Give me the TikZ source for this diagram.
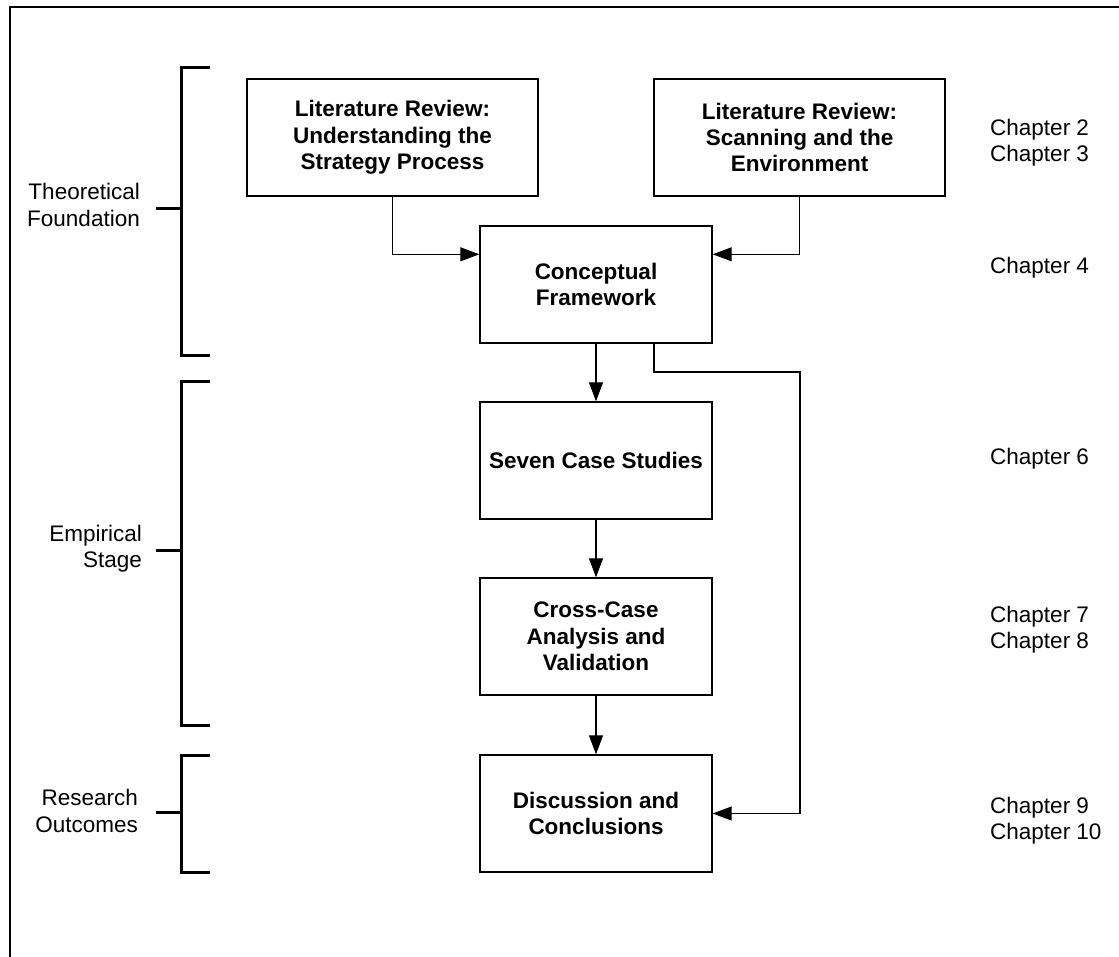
\documentclass[tikz,border=0pt]{standalone}
\usepackage{fontspec}
\setmainfont{Liberation Sans}
\usetikzlibrary{arrows.meta}
\begin{document}
\begin{tikzpicture}[x=1pt,y=-1pt,
  every node/.style={font=\fontsize{22.5}{26.3}\selectfont, inner sep=0pt},
  stage/.style={draw, line width=1.4pt, minimum height=117pt, align=center,
    font=\fontsize{22.5}{26.3}\selectfont\bfseries},
  wide/.style={stage, minimum width=291pt},
  narrow/.style={stage, minimum width=232pt},
  link/.style={line width=1.2pt, -{Triangle[length=19pt,width=14pt]}},
  bracket/.style={line width=3pt},
  phase/.style={align=right, anchor=east},
  chap/.style={align=left, anchor=west}]

\useasboundingbox (0,0) rectangle (1119,956);

% outer frame, running off the right and bottom edges
\begin{scope}
  \clip (0,0) rectangle (1119,956);
  \draw[line width=1.2pt] (10,990) -- (10,7) -- (1150,7);
\end{scope}

% process boxes
\node[wide]   (lrs) at (392.5,137.5) {Literature Review:\\Understanding the\\Strategy Process};
\node[wide]   (lre) at (799.5,137.5) {Literature Review:\\Scanning and the\\Environment};
\node[narrow] (cf)  at (596,284.5) {Conceptual\\Framework};
\node[narrow] (cs)  at (596,460.5) {Seven Case Studies};
\node[narrow] (cc)  at (596,636.5) {Cross-Case\\Analysis and\\Validation};
\node[narrow] (dc)  at (596,813.5) {Discussion and\\Conclusions};

% connectors
\draw[link] (lrs.south) |- ([yshift=-29pt]cf.north west);
\draw[link] (lre.south) |- ([yshift=-29pt]cf.north east);
\draw[link] (cf.south) -- (cs.north);
\draw[link] (cs.south) -- (cc.north);
\draw[link] (cc.south) -- (dc.north);
\coordinate (bend) at (800,372);
\draw[link] ([xshift=58pt]cf.south) |- (bend) |- (dc.east);

% phase brackets
\draw[bracket] (210,67) -- (181,67) -- (181,355) -- (210,355);
\draw[bracket] (156,208) -- (181,208);
\draw[bracket] (210,381) -- (181,381) -- (181,725) -- (210,725);
\draw[bracket] (156,550) -- (181,550);
\draw[bracket] (210,755) -- (181,755) -- (181,872) -- (210,872);
\draw[bracket] (156,812) -- (181,812);

% phase labels
\node[phase] (ph1) at (140,205) {Theoretical\\Foundation};
\node[phase] (ph2) at (142,549) {Empirical\\Stage};
\node[phase] (ph3) at (138,811) {Research\\Outcomes};

% chapter references
\node[chap] (ch1) at (990,143) {Chapter 2\\Chapter 3};
\node[chap] (ch2) at (990,268) {Chapter 4};
\node[chap] (ch3) at (990,459) {Chapter 6};
\node[chap] (ch4) at (990,630) {Chapter 7\\Chapter 8};
\node[chap] (ch5) at (990,821) {Chapter 9\\Chapter 10};
\end{tikzpicture}
\end{document}
